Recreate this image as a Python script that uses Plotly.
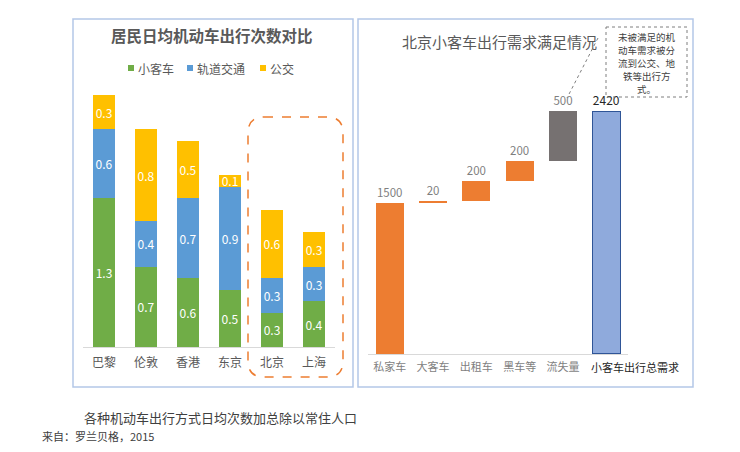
import plotly.graph_objects as go

# the page body adds an 8px margin, so the figure is 16px smaller than the window
OFF = 8
W, H = 740 - 2 * OFF, 452 - 2 * OFF

# left chart: trips per resident per day
cities = ["巴黎", "伦敦", "香港", "东京", "北京", "上海"]
car = [1.3, 0.7, 0.6, 0.5, 0.3, 0.4]
rail = [0.6, 0.4, 0.7, 0.9, 0.3, 0.3]
bus = [0.3, 0.8, 0.5, 0.1, 0.6, 0.3]
modes = ["小客车", "轨道交通", "公交"]
mode_colors = ["#70AD47", "#5B9BD5", "#FFC000"]

# right chart: Beijing car trip demand (waterfall)
steps = ["私家车", "大客车", "出租车", "黑车等", "流失量", "小客车出行总需求"]
step_vals = [1500, 20, 200, 200, 500, 2420]

note_lines = ["未被满足的机", "动车需求被分", "流到公交、地", "铁等出行方", "式。"]

FONT = "Noto Sans CJK SC, Noto Sans, sans-serif"
GRAY = "#595959"


def px(x):
    # window pixel -> paper fraction
    return (x - OFF) / W


def py(y):
    return 1 - (y - OFF) / H


# floating bar bases for the waterfall
bases = []
run = 0
for i, v in enumerate(step_vals):
    if i == len(step_vals) - 1:
        bases.append(0)
    else:
        bases.append(run)
        run += v

fig = go.Figure()

for name, vals, color in zip(modes, [car, rail, bus], mode_colors):
    fig.add_trace(go.Bar(
        x=cities, y=vals, name=name, showlegend=False, width=0.52,
        marker=dict(color=color, line=dict(width=0)),
        text=[f"{v:.1f}" for v in vals], textposition="inside", insidetextanchor="middle",
        textangle=0, constraintext="none", textfont=dict(color="white", size=12, family=FONT),
        xaxis="x", yaxis="y", hoverinfo="skip",
    ))

wf_colors = ["#ED7D31", "#ED7D31", "#ED7D31", "#ED7D31", "#767171", "#8FAADC"]
wf_lines = ["#ED7D31", "#ED7D31", "#ED7D31", "#ED7D31", "#767171", "#2F5597"]
fig.add_trace(go.Bar(
    x=steps, y=step_vals, base=bases, showlegend=False, width=0.65,
    marker=dict(color=wf_colors, line=dict(color=wf_lines, width=[0, 0, 0, 0, 0, 1.5])),
    text=[str(v) for v in step_vals], textposition="outside", cliponaxis=False, textangle=0,
    constraintext="none",
    textfont=dict(color=["#7F7F7F"] * 5 + ["#262626"], size=[11.5] * 5 + [12], family=FONT),
    xaxis="x2", yaxis="y2", hoverinfo="skip",
))

shapes = [
    # panel frames
    dict(type="rect", xref="paper", yref="paper", x0=px(73), x1=px(353), y0=py(19), y1=py(387),
         line=dict(color="#B4C7E7", width=1.5)),
    dict(type="rect", xref="paper", yref="paper", x0=px(358), x1=px(693), y0=py(19), y1=py(387),
         line=dict(color="#B4C7E7", width=1.5)),
    # note box
    dict(type="rect", xref="paper", yref="paper", x0=px(606), x1=px(687), y0=py(27), y1=py(97),
         line=dict(color="#7F7F7F", width=1, dash="dot")),
    # connector from title to the loss bar label
    dict(type="line", xref="paper", yref="paper", x0=px(598), y0=py(38), x1=px(567), y1=py(98),
         line=dict(color="#7F7F7F", width=1, dash="dot")),
]

# rounded dashed highlight around Beijing / Shanghai
x0, x1, y0, y1, r = 248, 343, 117, 377, 16
path = (f"M {px(x0 + r)},{py(y0)} L {px(x1 - r)},{py(y0)} Q {px(x1)},{py(y0)} {px(x1)},{py(y0 + r)} "
        f"L {px(x1)},{py(y1 - r)} Q {px(x1)},{py(y1)} {px(x1 - r)},{py(y1)} "
        f"L {px(x0 + r)},{py(y1)} Q {px(x0)},{py(y1)} {px(x0)},{py(y1 - r)} "
        f"L {px(x0)},{py(y0 + r)} Q {px(x0)},{py(y0)} {px(x0 + r)},{py(y0)} Z")
shapes.append(dict(type="path", xref="paper", yref="paper", path=path,
                   line=dict(color="#ED7D31", width=1.5, dash="dash")))

annotations = [
    dict(text="<b>居民日均机动车出行次数对比</b>", x=px(212), y=py(35), xref="paper", yref="paper",
         showarrow=False, font=dict(size=15.5, color=GRAY, family=FONT), xanchor="center", yanchor="middle"),
    dict(text="北京小客车出行需求满足情况", x=px(499), y=py(42), xref="paper", yref="paper",
         showarrow=False, font=dict(size=15, color=GRAY, family=FONT), xanchor="center", yanchor="middle"),
    dict(text="各种机动车出行方式日均次数加总除以常住人口", x=px(82), y=py(417), xref="paper", yref="paper",
         showarrow=False, font=dict(size=13, color="#404040", family=FONT), xanchor="left", yanchor="middle"),
    dict(text="来自：罗兰贝格，2015", x=px(40), y=py(436), xref="paper", yref="paper",
         showarrow=False, font=dict(size=11, color="#404040", family=FONT), xanchor="left", yanchor="middle"),
    # last category label sits off-centre to the right in the reference
    dict(text=steps[-1], x=steps[-1], y=0, xref="x2", yref="y2", xshift=29, yshift=-13,
         showarrow=False, font=dict(size=11, color="#262626", family=FONT), xanchor="center", yanchor="middle"),
]

for i, line in enumerate(note_lines):
    annotations.append(dict(text=line, x=px(646.5), y=py(37 + 13 * i), xref="paper", yref="paper",
                            showarrow=False, font=dict(size=9.5, color="#404040", family=FONT),
                            xanchor="center", yanchor="middle"))

# hand-placed legend (compact spacing like the reference)
for name, color, mx in zip(modes, mode_colors, [131, 190, 263]):
    shapes.append(dict(type="rect", xref="paper", yref="paper", x0=px(mx - 3), x1=px(mx + 3),
                       y0=py(71), y1=py(65), fillcolor=color, line=dict(width=0)))
    annotations.append(dict(text=name, x=px(mx + 5), y=py(68), xref="paper", yref="paper", showarrow=False,
                            font=dict(size=12, color=GRAY, family=FONT), xanchor="left", yanchor="middle"))

fig.update_layout(
    width=W, height=H, margin=dict(l=0, r=0, t=0, b=0),
    paper_bgcolor="white", plot_bgcolor="white",
    barmode="stack",
    font=dict(family=FONT, color=GRAY),
    showlegend=False,
    xaxis=dict(domain=[px(83), px(335)], type="category", range=[-0.5, 5.5], showline=True,
               linecolor="#D9D9D9", ticks="", tickfont=dict(size=12, color=GRAY), showgrid=False,
               anchor="y", automargin=False, tickangle=0, ticklabelstandoff=5),
    yaxis=dict(domain=[py(347), py(95)], range=[0, 2.2], visible=False, anchor="x", automargin=False),
    xaxis2=dict(domain=[px(368), px(628)], type="category", range=[-0.5, 5.5], showline=True,
                linecolor="#D9D9D9", ticks="", tickfont=dict(size=11, color="#7F7F7F"), showgrid=False,
                anchor="y2", automargin=False, tickangle=0, ticklabelstandoff=3,
                tickvals=steps, ticktext=steps[:-1] + [""]),
    yaxis2=dict(domain=[py(354), py(111)], range=[0, 2420], visible=False, anchor="x2", automargin=False),
    shapes=shapes,
    annotations=annotations,
)

fig.write_html("out.html")
